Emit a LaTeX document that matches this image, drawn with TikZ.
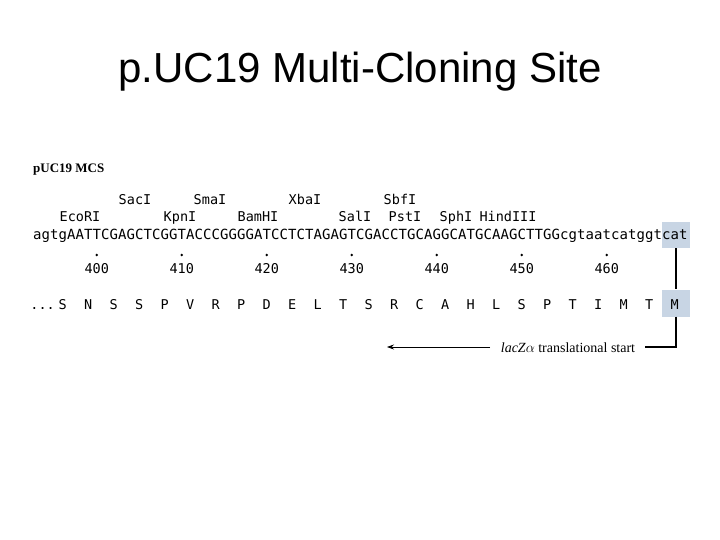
\documentclass[tikz,border=0pt]{standalone}
\usepackage{fontspec}
\usetikzlibrary{arrows.meta}
\setmainfont{Liberation Serif}
\newfontfamily\ttl{Liberation Sans}
\newfontfamily\mono{DejaVu Sans Mono}
\definecolor{hlc}{RGB}{200,213,228}
\begin{document}
\begin{tikzpicture}[x=1pt,y=-1pt,
  seq/.style={font=\mono\fontsize{14}{15}\selectfont,inner sep=0pt,anchor=base},
  enz/.style={font=\mono\fontsize{13.5}{15}\selectfont,inner sep=0pt,anchor=base},
  hl/.style={fill=hlc,draw=none}]
\useasboundingbox (0,0) rectangle (720,540);
\node[font=\ttl\fontsize{42}{46}\selectfont] (title) at (360,72) {p.UC19 Multi-Cloning Site};
\node[font=\bfseries\fontsize{13}{14}\selectfont,anchor=base west,inner sep=0pt] (mcs) at (33,173) {pUC19 MCS};
% highlight boxes
\node[hl,minimum width=28pt,minimum height=26pt] (boxc) at (676,235) {};
\node[hl,minimum width=28pt,minimum height=27pt] (boxm) at (676,303) {};
% sequence
\foreach \ch [count=\i from 0] in {a,g,t,g,A,A,T,T,C,G,A,G,C,T,C,G,G,T,A,C,C,C,G,G,G,G,A,T,C,C,T,C,T,A,G,A,G,T,C,G,A,C,C,T,G,C,A,G,G,C,A,T,G,C,A,A,G,C,T,T,G,G,c,g,t,a,a,t,c,a,t,g,g,t,c,a,t}
  \node[seq] (c\i) at ({37.25+8.5*\i},240) {\ch};
% enzymes
\foreach \n/\x/\y in {SacI/135/205,SmaI/210/205,XbaI/305/205,SbfI/400/205,
  EcoRI/80/222,KpnI/180/222,BamHI/258/222,SalI/355/222,PstI/405/222,SphI/456/222,HindIII/508/222}
  \node[enz] (e\n) at (\x,\y) {\n};
% dots and numbers
\foreach \k [count=\j from 0] in {400,410,420,430,440,450,460}{
  \fill ({37.25+8.5*(7+10*\j)},255) circle (1.4pt);
  \node[enz] (n\k) at ({37.25+8.5*(7+10*\j)},273) {\k};
}
% amino acids
\node[enz,anchor=base east] (dots) at (55,309) {...};
\foreach \a [count=\j from 0] in {S,N,S,S,P,V,R,P,D,E,L,T,S,R,C,A,H,L,S,P,T,I,M,T,M}
  \node[enz] (aa\j) at ({37.25+8.5*(3+3*\j)},309) {\a};
% connectors
\draw[line width=1.2pt] (boxc.south) -- (boxm.north);
\coordinate (corner) at (676,347);
\coordinate (tend) at (645,347);
\draw[line width=1.2pt] (boxm.south) -- (corner) -- (tend);
\node[anchor=base,inner sep=0pt,font=\fontsize{14}{16}\selectfont] (lac) at (568,352) {\textit{lacZ$\alpha$} translational start};
\coordinate (astart) at (490,347);
\coordinate (aend) at (387,347);
\draw[-{Stealth[length=7pt,width=5pt]},line width=0.7pt] (astart) -- (aend);
\end{tikzpicture}
\end{document}
